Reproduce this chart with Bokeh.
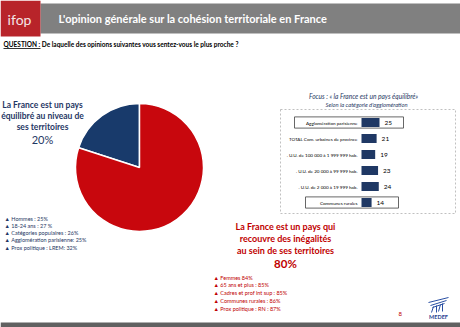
import numpy as np
from bokeh.plotting import figure
from bokeh.models import Range1d, ColumnDataSource, Label
from bokeh.core.properties import value
from bokeh.embed import file_html
from bokeh.resources import INLINE

# ---- data -------------------------------------------------------------
pie_labels = ["équilibré", "inégalités"]
pie_shares = [20, 80]
pie_colors = ["#183a6b", "#c8070d"]

focus_categories = [
    "Agglomération parisienne",
    "TOTAL Com. urbaines de province",
    ". U.U. de 100 000 à 1 999 999 hab.",
    ". U.U. de 20 000 à 99 999 hab.",
    ". U.U. de 2 000 à 19 999 hab.",
    "Communes rurales",
]
focus_values = [25, 21, 19, 23, 24, 14]

left_bullets = [
    "▲ Hommes : 25%",
    "▲ 18-24 ans : 27 %",
    "▲ Catégories populaires : 26%",
    "▲ Agglomération parisienne: 25%",
    "▲ Prox politique : LREM: 32%",
]
right_bullets = [
    "▲ Femmes 84%",
    "▲ 65 ans et plus : 85%",
    "▲ Cadres et prof int sup : 85%",
    "▲ Communes rurales : 86%",
    "▲ Prox politique : RN : 87%",
]

# ---- page geometry (pixels from the top-left corner) ------------------
W, H = 460, 327
NAVY = "#1f3864"
RED = "#c00000"
FONT_NAME = "Lato"
FONT = value(FONT_NAME)


def T(py):
    """convert a distance from the top edge into the y coordinate"""
    return H - py


p = figure(width=W, height=H, output_backend="svg", toolbar_location=None,
           x_range=Range1d(0, W), y_range=Range1d(0, H),
           min_border=0, outline_line_color=None,
           x_axis_location=None, y_axis_location=None,
           background_fill_color="white", border_fill_color="white")
p.grid.visible = False


def label(x, y, text, size, color, style="normal", align="left", baseline="middle"):
    p.add_layout(Label(x=x, y=T(y), text=text, text_font=FONT_NAME,
                       text_font_size=f"{size}px", text_color=color,
                       text_font_style=style, text_align=align,
                       text_baseline=baseline))


# ---- header -------------------------------------------------------------
p.quad(left=40, right=W, bottom=T(33), top=T(3), fill_color="#808080", line_color=None)
p.quad(left=0, right=40, bottom=T(36), top=T(0), fill_color="#b8242a", line_color=None)
label(19, 19, "ifop", 14, "#f4e6e6", align="center")
label(58, 18, "L'opinion générale sur la cohésion territoriale en France", 11, "white", "bold")

label(3, 44, "QUESTION : De laquelle des opinions suivantes vous sentez-vous le plus proche ?",
      6.5, "black", "bold")
p.segment(x0=3, x1=40, y0=T(48), y1=T(48), line_color="black", line_width=0.8)

# ---- pie ---------------------------------------------------------------
cx, cy, radius = 139, 167, 64
ends = np.cumsum(pie_shares) / sum(pie_shares) * 2 * np.pi
starts = np.concatenate([[0], ends[:-1]])
pie = ColumnDataSource(dict(
    start=np.pi / 2 + starts, end=np.pi / 2 + ends,
    color=pie_colors, label=pie_labels))
p.wedge(x=cx, y=T(cy), radius=radius, radius_units="screen",
        start_angle="start", end_angle="end", direction="anticlock",
        fill_color="color", line_color="white", line_width=1.5, source=pie)

# ---- left annotation (20%) ---------------------------------------------
for i, line in enumerate(["La France est un pays", "équilibré au niveau de", "ses territoires"]):
    label(42, 104 + 11 * i, line, 8.5, NAVY, "bold", align="center")
label(42, 139, f"{pie_shares[0]}%", 11, NAVY, align="center")

for i, t in enumerate(left_bullets):
    label(4, 218 + 7.3 * i, t, 5.5, NAVY)

# ---- right annotation (80%) --------------------------------------------
for i, line in enumerate(["La France est un pays qui", "recouvre des inégalités", "au sein de ses territoires"]):
    label(285, 226 + 12 * i, line, 9, RED, "bold", align="center")
label(285, 263, f"{pie_shares[1]}%", 11.5, RED, "bold", align="center")

for i, t in enumerate(right_bullets):
    label(213, 277 + 7.8 * i, t, 5.5, RED)

# ---- focus bar chart ---------------------------------------------------
label(363, 95, "Focus : « la France est un pays équilibré»", 6.6, NAVY, "italic", align="center")
label(366, 104, "Selon la catégorie d'agglomération", 5.8, NAVY, "italic", align="center")
p.quad(left=280, right=455, bottom=T(213), top=T(109), fill_color=None,
       line_color="#b0b0b0", line_width=0.8, line_dash="2 2")

BAR_X0, PX_PER_UNIT = 361, 0.72
ROW0, ROW_STEP = 122, 16
p.extra_x_ranges = {"bar": Range1d(-BAR_X0 / PX_PER_UNIT, (W - BAR_X0) / PX_PER_UNIT)}
p.extra_y_ranges = {"rows": Range1d((H - ROW0) / ROW_STEP, -ROW0 / ROW_STEP)}

rows = ColumnDataSource(dict(idx=list(range(len(focus_values))), val=focus_values,
                             cat=focus_categories,
                             txt=[str(v) for v in focus_values]))
p.hbar(y="idx", left=0, right="val", height=0.55, fill_color=NAVY, line_color=None,
       source=rows, x_range_name="bar", y_range_name="rows")
p.text(x="val", y="idx", text="txt", source=rows, x_offset=5,
       text_font=FONT, text_font_size="6.5px", text_color="black",
       text_baseline="middle", x_range_name="bar", y_range_name="rows")
p.text(x=0, y="idx", text="cat", source=rows, x_offset=-4,
       text_font=FONT, text_font_size="4.6px", text_color="black",
       text_align="right", text_baseline="middle",
       x_range_name="bar", y_range_name="rows")

# frames around the first and last categories
boxed = ColumnDataSource(dict(left=[294, 305], right=[403, 398],
                              top=[0 - 0.35, 5 - 0.35], bottom=[0 + 0.35, 5 + 0.35]))
p.quad(left="left", right="right", top="top", bottom="bottom", source=boxed,
       fill_color=None, line_color="#404040", line_width=0.8, y_range_name="rows")

# ---- footer --------------------------------------------------------------
p.quad(left=0, right=W, bottom=T(327), top=T(322), fill_color="#606060", line_color=None)
label(398, 313, "8", 6, RED)
p.multi_line(xs=[[428, 448], [430, 446], [432, 444], [436, 436], [442, 442], [433, 431], [440, 438]],
             ys=[[T(302), T(297)], [T(305), T(300)], [T(307), T(303)], [T(305), T(312)],
                 [T(303), T(311)], [T(306), T(312)], [T(304), T(311)]],
             line_color="#2a4fa3", line_width=1)
label(438, 316, "MEDEF", 5.5, "#1f3f8f", "bold", align="center")

open("out.html", "w").write(file_html(p, INLINE))
